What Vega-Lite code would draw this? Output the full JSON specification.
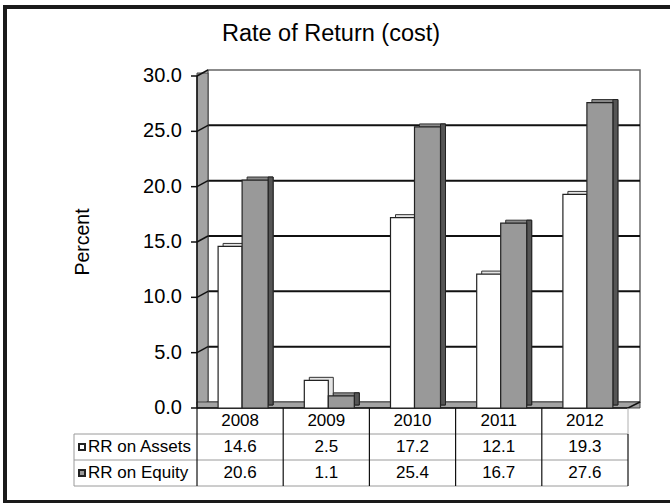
{
  "$schema": "https://vega.github.io/schema/vega-lite/v6.json",
  "width": 665,
  "height": 495,
  "autosize": {"type": "none"},
  "padding": {"left": 5, "top": 7, "right": 0, "bottom": 1},
  "background": "white",
  "config": {
    "view": {"stroke": "#1a1a1a", "strokeWidth": 4, "strokeDash": [665, 495, 1300], "strokeCap": "square"},
    "font": "Liberation Sans",
    "text": {"font": "Liberation Sans", "color": "#000"}
  },
  "title": {
    "text": "Rate of Return (cost)",
    "anchor": "middle",
    "frame": "group",
    "fontSize": 23.5,
    "fontWeight": "normal",
    "font": "Liberation Sans",
    "color": "#000",
    "baseline": "alphabetic",
    "offset": 0,
    "dy": 57,
    "dx": -6.5
  },
  "datasets": {
    "rr": [
      {"year": 2008, "series": "RR on Assets", "value": 14.6},
      {"year": 2009, "series": "RR on Assets", "value": 2.5},
      {"year": 2010, "series": "RR on Assets", "value": 17.2},
      {"year": 2011, "series": "RR on Assets", "value": 12.1},
      {"year": 2012, "series": "RR on Assets", "value": 19.3},
      {"year": 2008, "series": "RR on Equity", "value": 20.6},
      {"year": 2009, "series": "RR on Equity", "value": 1.1},
      {"year": 2010, "series": "RR on Equity", "value": 25.4},
      {"year": 2011, "series": "RR on Equity", "value": 16.7},
      {"year": 2012, "series": "RR on Equity", "value": 27.6}
    ],
    "ticks": [{"v": 0}, {"v": 5}, {"v": 10}, {"v": 15}, {"v": 20}, {"v": 25}, {"v": 30}],
    "ytitle": [{"label": "Percent", "mid": 15}]
  },
  "data": {"name": "rr"},
  "resolve": {"scale": {"y": "independent"}},
  "layer": [
    {
      "layer": [
        {
          "data": {"values": [{}]},
          "mark": {"type": "rect", "fill": "white", "stroke": "#666", "strokeWidth": 1.5, "xOffset": 11, "x2Offset": 12, "yOffset": -6, "y2Offset": -6},
          "encoding": {
            "x": {"datum": 2007.5, "type": "quantitative", "scale": {"domain": [2005.2726, 2012.9872], "nice": false, "zero": false}, "axis": null},
            "x2": {"datum": 2012.5},
            "y": {"datum": 0, "type": "quantitative", "scale": {"domain": [-8.494, 36.235], "nice": false, "zero": false}, "axis": null},
            "y2": {"datum": 30}
          }
        },
        {
          "data": {"name": "ticks"},
          "transform": [{"filter": "datum.v > 0 && datum.v < 30"}],
          "mark": {"type": "rule", "color": "#111", "strokeWidth": 2, "xOffset": 11, "x2Offset": 12, "yOffset": -6},
          "encoding": {
            "x": {"datum": 2007.5, "type": "quantitative", "scale": {"domain": [2005.2726, 2012.9872], "nice": false, "zero": false}, "axis": null},
            "x2": {"datum": 2012.5},
            "y": {"field": "v", "type": "quantitative", "scale": {"domain": [-8.494, 36.235], "nice": false, "zero": false}, "axis": null}
          }
        },
        {
          "data": {"values": [{}]},
          "mark": {"type": "rect", "fill": "#a3a3a3", "stroke": "#444", "strokeWidth": 1, "x2Offset": 11, "yOffset": -3, "y2Offset": -3},
          "encoding": {
            "x": {"datum": 2007.5, "type": "quantitative", "scale": {"domain": [2005.2726, 2012.9872], "nice": false, "zero": false}, "axis": null},
            "x2": {"datum": 2007.5},
            "y": {"datum": 0, "type": "quantitative", "scale": {"domain": [-8.494, 36.235], "nice": false, "zero": false}, "axis": null},
            "y2": {"datum": 30}
          }
        },
        {
          "data": {"name": "ticks"},
          "mark": {"type": "rule", "color": "#111", "strokeWidth": 1.5, "x2Offset": 11, "y2Offset": -6},
          "encoding": {
            "x": {"datum": 2007.5, "type": "quantitative", "scale": {"domain": [2005.2726, 2012.9872], "nice": false, "zero": false}, "axis": null},
            "x2": {"datum": 2007.5},
            "y": {"field": "v", "type": "quantitative", "scale": {"domain": [-8.494, 36.235], "nice": false, "zero": false}, "axis": null},
            "y2": {"field": "v"}
          }
        },
        {
          "data": {"name": "ticks"},
          "mark": {"type": "rule", "color": "#111", "strokeWidth": 1.5, "xOffset": -6},
          "encoding": {
            "x": {"datum": 2007.5, "type": "quantitative", "scale": {"domain": [2005.2726, 2012.9872], "nice": false, "zero": false}, "axis": null},
            "x2": {"datum": 2007.5},
            "y": {"field": "v", "type": "quantitative", "scale": {"domain": [-8.494, 36.235], "nice": false, "zero": false}, "axis": null}
          }
        },
        {
          "data": {"name": "ticks"},
          "mark": {"type": "text", "fontSize": 20, "font": "Liberation Sans", "color": "#000", "align": "right", "baseline": "middle", "xOffset": -15},
          "encoding": {
            "x": {"datum": 2007.5, "type": "quantitative", "scale": {"domain": [2005.2726, 2012.9872], "nice": false, "zero": false}, "axis": null},
            "y": {"field": "v", "type": "quantitative", "scale": {"domain": [-8.494, 36.235], "nice": false, "zero": false}, "axis": null},
            "text": {"field": "v", "type": "quantitative", "format": ".1f"}
          }
        },
        {
          "data": {"name": "ytitle"},
          "mark": {"type": "text", "fontSize": 19.5, "font": "Liberation Sans", "color": "#000", "align": "center", "baseline": "middle", "angle": 270, "xOffset": -114},
          "encoding": {
            "x": {"datum": 2007.5, "type": "quantitative", "scale": {"domain": [2005.2726, 2012.9872], "nice": false, "zero": false}, "axis": null},
            "y": {"field": "mid", "type": "quantitative", "scale": {"domain": [-8.494, 36.235], "nice": false, "zero": false}, "axis": null},
            "text": {"field": "label", "type": "nominal"}
          }
        },
        {
          "data": {"values": [{}]},
          "mark": {"type": "rect", "fill": "#a3a3a3", "stroke": "#444", "strokeWidth": 1, "x2Offset": 12, "yOffset": -6},
          "encoding": {
            "x": {"datum": 2007.5, "type": "quantitative", "scale": {"domain": [2005.2726, 2012.9872], "nice": false, "zero": false}, "axis": null},
            "x2": {"datum": 2012.5},
            "y": {"datum": 0, "type": "quantitative", "scale": {"domain": [-8.494, 36.235], "nice": false, "zero": false}, "axis": null},
            "y2": {"datum": 0}
          }
        },
        {
          "data": {"values": [{}]},
          "mark": {"type": "rule", "color": "#111", "strokeWidth": 1.5},
          "encoding": {
            "x": {"datum": 2007.5, "type": "quantitative", "scale": {"domain": [2005.2726, 2012.9872], "nice": false, "zero": false}, "axis": null},
            "x2": {"datum": 2012.5},
            "y": {"datum": 0, "type": "quantitative", "scale": {"domain": [-8.494, 36.235], "nice": false, "zero": false}, "axis": null}
          }
        },
        {
          "data": {"values": [{}]},
          "mark": {"type": "rule", "color": "#111", "strokeWidth": 1.5},
          "encoding": {
            "x": {"datum": 2007.5, "type": "quantitative", "scale": {"domain": [2005.2726, 2012.9872], "nice": false, "zero": false}, "axis": null},
            "y": {"datum": 0, "type": "quantitative", "scale": {"domain": [-8.494, 36.235], "nice": false, "zero": false}, "axis": null},
            "y2": {"datum": 30}
          }
        },
        {
          "data": {"values": [{}]},
          "mark": {"type": "rule", "color": "#111", "strokeWidth": 1.5, "x2Offset": 12, "y2Offset": -6},
          "encoding": {
            "x": {"datum": 2012.5, "type": "quantitative", "scale": {"domain": [2005.2726, 2012.9872], "nice": false, "zero": false}, "axis": null},
            "x2": {"datum": 2012.5},
            "y": {"datum": 0, "type": "quantitative", "scale": {"domain": [-8.494, 36.235], "nice": false, "zero": false}, "axis": null},
            "y2": {"datum": 0}
          }
        },
        {
          "transform": [{"filter": "datum.series === 'RR on Assets'"}],
          "mark": {"type": "rect", "fill": "#e4e4e4", "stroke": "#333", "strokeWidth": 1, "xOffset": -17, "x2Offset": 7, "yOffset": -3, "y2Offset": -3},
          "encoding": {
            "x": {"field": "year", "type": "quantitative", "scale": {"domain": [2005.2726, 2012.9872], "nice": false, "zero": false}, "axis": null},
            "x2": {"field": "year"},
            "y": {"field": "value", "type": "quantitative", "scale": {"domain": [-8.494, 36.235], "nice": false, "zero": false}, "axis": null},
            "y2": {"datum": 0}
          }
        },
        {
          "transform": [{"filter": "datum.series === 'RR on Assets'"}],
          "mark": {"type": "rect", "fill": "#ffffff", "stroke": "#222", "strokeWidth": 1.2, "xOffset": -22, "x2Offset": 2},
          "encoding": {
            "x": {"field": "year", "type": "quantitative", "scale": {"domain": [2005.2726, 2012.9872], "nice": false, "zero": false}, "axis": null},
            "x2": {"field": "year"},
            "y": {"field": "value", "type": "quantitative", "scale": {"domain": [-8.494, 36.235], "nice": false, "zero": false}, "axis": null},
            "y2": {"datum": 0}
          }
        },
        {
          "transform": [{"filter": "datum.series === 'RR on Equity'"}],
          "mark": {"type": "rect", "fill": "#8a8a8a", "stroke": "#333", "strokeWidth": 1, "xOffset": 7, "x2Offset": 33, "yOffset": -3, "y2Offset": -3},
          "encoding": {
            "x": {"field": "year", "type": "quantitative", "scale": {"domain": [2005.2726, 2012.9872], "nice": false, "zero": false}, "axis": null},
            "x2": {"field": "year"},
            "y": {"field": "value", "type": "quantitative", "scale": {"domain": [-8.494, 36.235], "nice": false, "zero": false}, "axis": null},
            "y2": {"datum": 0}
          }
        },
        {
          "transform": [{"filter": "datum.series === 'RR on Equity'"}],
          "mark": {"type": "rect", "fill": "#555555", "stroke": "#222", "strokeWidth": 1, "xOffset": 28, "x2Offset": 33, "yOffset": -3, "y2Offset": -3},
          "encoding": {
            "x": {"field": "year", "type": "quantitative", "scale": {"domain": [2005.2726, 2012.9872], "nice": false, "zero": false}, "axis": null},
            "x2": {"field": "year"},
            "y": {"field": "value", "type": "quantitative", "scale": {"domain": [-8.494, 36.235], "nice": false, "zero": false}, "axis": null},
            "y2": {"datum": 0}
          }
        },
        {
          "transform": [{"filter": "datum.series === 'RR on Equity'"}],
          "mark": {"type": "rect", "fill": "#999999", "stroke": "#222", "strokeWidth": 1.2, "xOffset": 2, "x2Offset": 28},
          "encoding": {
            "x": {"field": "year", "type": "quantitative", "scale": {"domain": [2005.2726, 2012.9872], "nice": false, "zero": false}, "axis": null},
            "x2": {"field": "year"},
            "y": {"field": "value", "type": "quantitative", "scale": {"domain": [-8.494, 36.235], "nice": false, "zero": false}, "axis": null},
            "y2": {"datum": 0}
          }
        }
      ]
    },
    {
      "layer": [
        {
          "transform": [{"filter": "datum.year === 2008"}],
          "mark": {"type": "rule", "color": "#9a9a9a", "strokeWidth": 1, "xOffset": -123, "yOffset": -13},
          "encoding": {
            "x": {"datum": 2007.5, "type": "quantitative", "scale": {"domain": [2005.2726, 2012.9872], "nice": false, "zero": false}, "axis": null},
            "x2": {"datum": 2012.5},
            "y": {"field": "series", "type": "nominal", "scale": {"type": "point", "domain": ["Year", "RR on Assets", "RR on Equity"], "range": [414, 466], "padding": 0}, "axis": null}
          }
        },
        {
          "data": {"values": [{}]},
          "mark": {"type": "rule", "color": "#9a9a9a", "strokeWidth": 1, "xOffset": -123, "yOffset": 13},
          "encoding": {
            "x": {"datum": 2007.5, "type": "quantitative", "scale": {"domain": [2005.2726, 2012.9872], "nice": false, "zero": false}, "axis": null},
            "x2": {"datum": 2012.5},
            "y": {"datum": "RR on Equity", "type": "nominal", "scale": {"type": "point", "domain": ["Year", "RR on Assets", "RR on Equity"], "range": [414, 466], "padding": 0}, "axis": null}
          }
        },
        {
          "data": {"values": [{}]},
          "mark": {"type": "rule", "color": "#9a9a9a", "strokeWidth": 1, "xOffset": -123, "yOffset": -13, "y2Offset": 13},
          "encoding": {
            "x": {"datum": 2007.5, "type": "quantitative", "scale": {"domain": [2005.2726, 2012.9872], "nice": false, "zero": false}, "axis": null},
            "y": {"datum": "RR on Assets", "type": "nominal", "scale": {"type": "point", "domain": ["Year", "RR on Assets", "RR on Equity"], "range": [414, 466], "padding": 0}, "axis": null},
            "y2": {"datum": "RR on Equity"}
          }
        },
        {
          "data": {"values": [{}]},
          "mark": {"type": "rule", "color": "#b0b0b0", "strokeWidth": 1, "yOffset": -13, "y2Offset": -13},
          "encoding": {
            "x": {"datum": 2012.5, "type": "quantitative", "scale": {"domain": [2005.2726, 2012.9872], "nice": false, "zero": false}, "axis": null},
            "y": {"datum": "Year", "type": "nominal", "scale": {"type": "point", "domain": ["Year", "RR on Assets", "RR on Equity"], "range": [414, 466], "padding": 0}, "axis": null},
            "y2": {"datum": "RR on Assets"}
          }
        },
        {
          "transform": [{"filter": "datum.series === 'RR on Assets'"}],
          "mark": {"type": "rule", "color": "#111", "strokeWidth": 1.2, "xOffset": -43.1, "yOffset": -13, "y2Offset": 13},
          "encoding": {
            "x": {"field": "year", "type": "quantitative", "scale": {"domain": [2005.2726, 2012.9872], "nice": false, "zero": false}, "axis": null},
            "y": {"datum": "Year", "type": "nominal", "scale": {"type": "point", "domain": ["Year", "RR on Assets", "RR on Equity"], "range": [414, 466], "padding": 0}, "axis": null},
            "y2": {"datum": "RR on Equity"}
          }
        },
        {
          "data": {"values": [{}]},
          "mark": {"type": "rule", "color": "#111", "strokeWidth": 1.2, "yOffset": -13, "y2Offset": 13},
          "encoding": {
            "x": {"datum": 2012.5, "type": "quantitative", "scale": {"domain": [2005.2726, 2012.9872], "nice": false, "zero": false}, "axis": null},
            "y": {"datum": "RR on Assets", "type": "nominal", "scale": {"type": "point", "domain": ["Year", "RR on Assets", "RR on Equity"], "range": [414, 466], "padding": 0}, "axis": null},
            "y2": {"datum": "RR on Equity"}
          }
        },
        {
          "transform": [{"filter": "datum.series === 'RR on Assets'"}],
          "mark": {"type": "text", "fontSize": 17, "font": "Liberation Sans", "color": "#000", "baseline": "middle", "align": "center"},
          "encoding": {
            "x": {"field": "year", "type": "quantitative", "scale": {"domain": [2005.2726, 2012.9872], "nice": false, "zero": false}, "axis": null},
            "y": {"datum": "Year", "type": "nominal", "scale": {"type": "point", "domain": ["Year", "RR on Assets", "RR on Equity"], "range": [414, 466], "padding": 0}, "axis": null},
            "text": {"field": "year", "type": "nominal"}
          }
        },
        {
          "mark": {"type": "text", "fontSize": 17, "font": "Liberation Sans", "color": "#000", "baseline": "middle", "align": "center"},
          "encoding": {
            "x": {"field": "year", "type": "quantitative", "scale": {"domain": [2005.2726, 2012.9872], "nice": false, "zero": false}, "axis": null},
            "y": {"field": "series", "type": "nominal", "scale": {"type": "point", "domain": ["Year", "RR on Assets", "RR on Equity"], "range": [414, 466], "padding": 0}, "axis": null},
            "text": {"field": "value", "type": "quantitative", "format": ".1f"}
          }
        },
        {
          "transform": [{"filter": "datum.year === 2008"}],
          "mark": {"type": "text", "fontSize": 17, "font": "Liberation Sans", "color": "#000", "baseline": "middle", "align": "left", "xOffset": -109},
          "encoding": {
            "x": {"datum": 2007.5, "type": "quantitative", "scale": {"domain": [2005.2726, 2012.9872], "nice": false, "zero": false}, "axis": null},
            "y": {"field": "series", "type": "nominal", "scale": {"type": "point", "domain": ["Year", "RR on Assets", "RR on Equity"], "range": [414, 466], "padding": 0}, "axis": null},
            "text": {"field": "series", "type": "nominal"}
          }
        },
        {
          "transform": [{"filter": "datum.year === 2008"}],
          "mark": {"type": "point", "shape": "square", "size": 36, "filled": true, "stroke": "#222", "strokeWidth": 2, "opacity": 1, "xOffset": -115},
          "encoding": {
            "x": {"datum": 2007.5, "type": "quantitative", "scale": {"domain": [2005.2726, 2012.9872], "nice": false, "zero": false}, "axis": null},
            "y": {"field": "series", "type": "nominal", "scale": {"type": "point", "domain": ["Year", "RR on Assets", "RR on Equity"], "range": [414, 466], "padding": 0}, "axis": null},
            "fill": {"field": "series", "type": "nominal", "scale": {"domain": ["RR on Assets", "RR on Equity"], "range": ["#ffffff", "#999999"]}, "legend": null}
          }
        }
      ]
    }
  ]
}
